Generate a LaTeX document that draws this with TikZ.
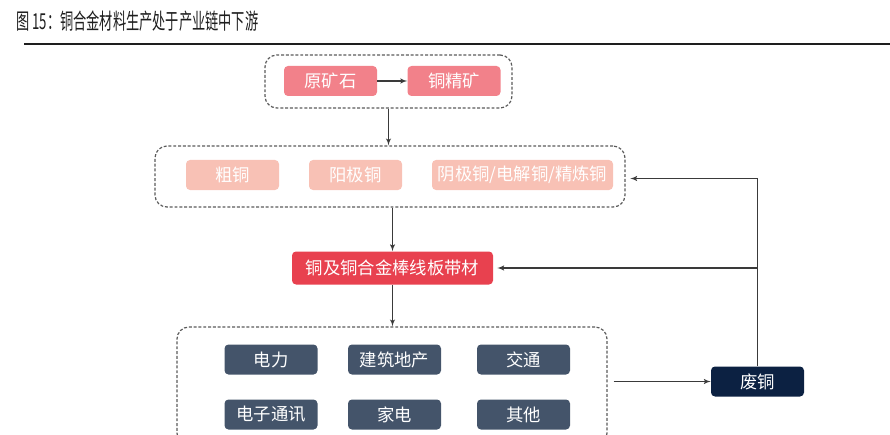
\documentclass[tikz,border=0pt]{standalone}
\usepackage{fontspec}
\setmainfont{Noto Sans CJK SC}
\usepackage{graphicx}
\usetikzlibrary{shapes,arrows}
\definecolor{oreRed}{HTML}{F2818A}
\definecolor{smeltPink}{HTML}{F8C1B5}
\definecolor{mainRed}{HTML}{E8414F}
\definecolor{useSlate}{HTML}{44546A}
\definecolor{scrapNavy}{HTML}{0C2142}
\definecolor{dashGray}{HTML}{5A5A5A}
\definecolor{lineGray}{HTML}{3A3A3A}
\definecolor{titleGray}{HTML}{1E1E1E}
\tikzstyle{block} = [rectangle, text=white, text centered, rounded corners=3pt, minimum
    height=22.5pt, minimum width=69.75pt, inner sep=0pt, font=\fontsize{13pt}{15pt}\selectfont]
\tikzstyle{ore} = [block, fill=oreRed]
\tikzstyle{smelt} = [block, fill=smeltPink]
\tikzstyle{product} = [block, fill=mainRed, minimum width=150.75pt, minimum height=24.75pt]
\tikzstyle{use} = [block, fill=useSlate]
\tikzstyle{scrapbox} = [block, fill=scrapNavy]
\tikzstyle{group} = [rectangle, draw=dashGray, dash pattern=on 2.2pt off 1.4pt, line width=0.9pt,
    rounded corners=9pt, inner sep=0pt]
\tikzstyle{line} = [draw=lineGray, line width=0.8pt, -latex']

\begin{document}
\begin{tikzpicture}[x=0.75pt,y=-0.75pt]
      \clip (0,0) rectangle (890,435);
      % title
      \node [anchor=base west, inner sep=0pt, text=titleGray] (title) at (16,30)
          {\scalebox{0.6}[1]{\fontsize{16.5pt}{18pt}\selectfont 图 15：铜合金材料生产处于产业链中下游}};
      \draw [titleGray, line width=1.5pt] (24,44) -- (890,44);

      % dashed groups
      \node [group, minimum width=185.25pt, minimum height=39.75pt] (grpMine) at (388.5,81.5) {};
      \node [group, minimum width=352.5pt, minimum height=45.75pt] (grpSmelt) at (390,176.5) {};
      \node [group, minimum width=322.5pt, minimum height=88.5pt] (grpUse) at (392,386) {};

      \node [ore] (rawore) at (330.5,81) {原矿石};
      \node [ore] (concentrate) at (454,81) {铜精矿};

      \node [smelt] (blister) at (232.5,175) {粗铜};
      \node [smelt] (anode) at (355.5,175) {阳极铜};
      \node [smelt, minimum width=135.75pt] (refined) at (522.5,175) {阴极铜/电解铜/精炼铜};

      \node [product] (alloy) at (392.5,268) {铜及铜合金棒线板带材};

      \node [use] (power) at (271,359.5) {电力};
      \node [use] (building) at (394.5,359.5) {建筑地产};
      \node [use] (traffic) at (523.5,359.5) {交通};
      \node [use] (electronics) at (271,414.5) {电子通讯};
      \node [use] (appliance) at (394.5,414.5) {家电};
      \node [use] (others) at (523.5,414.5) {其他};

      \node [scrapbox] (scrap) at (757.5,381.5) {废铜};

      \coordinate (split) at (scrap.north |- alloy.east);

      \path [line] (rawore) -- (concentrate);
      \path [line] (grpMine.south) -- (grpMine.south |- grpSmelt.north);
      \path [line] (alloy.north |- grpSmelt.south) -- (alloy.north);
      \path [line] (alloy.south) -- (alloy.south |- grpUse.north);
      \path [line, shorten <=4.5pt] (grpUse.east |- scrap.west) -- (scrap.west);
      \path [line, shorten >=3.5pt] (scrap.north) |- ([yshift=-1.5pt]grpSmelt.east);
      \path [line, shorten >=3pt] (split) -- (alloy.east);
\end{tikzpicture}
\end{document}
